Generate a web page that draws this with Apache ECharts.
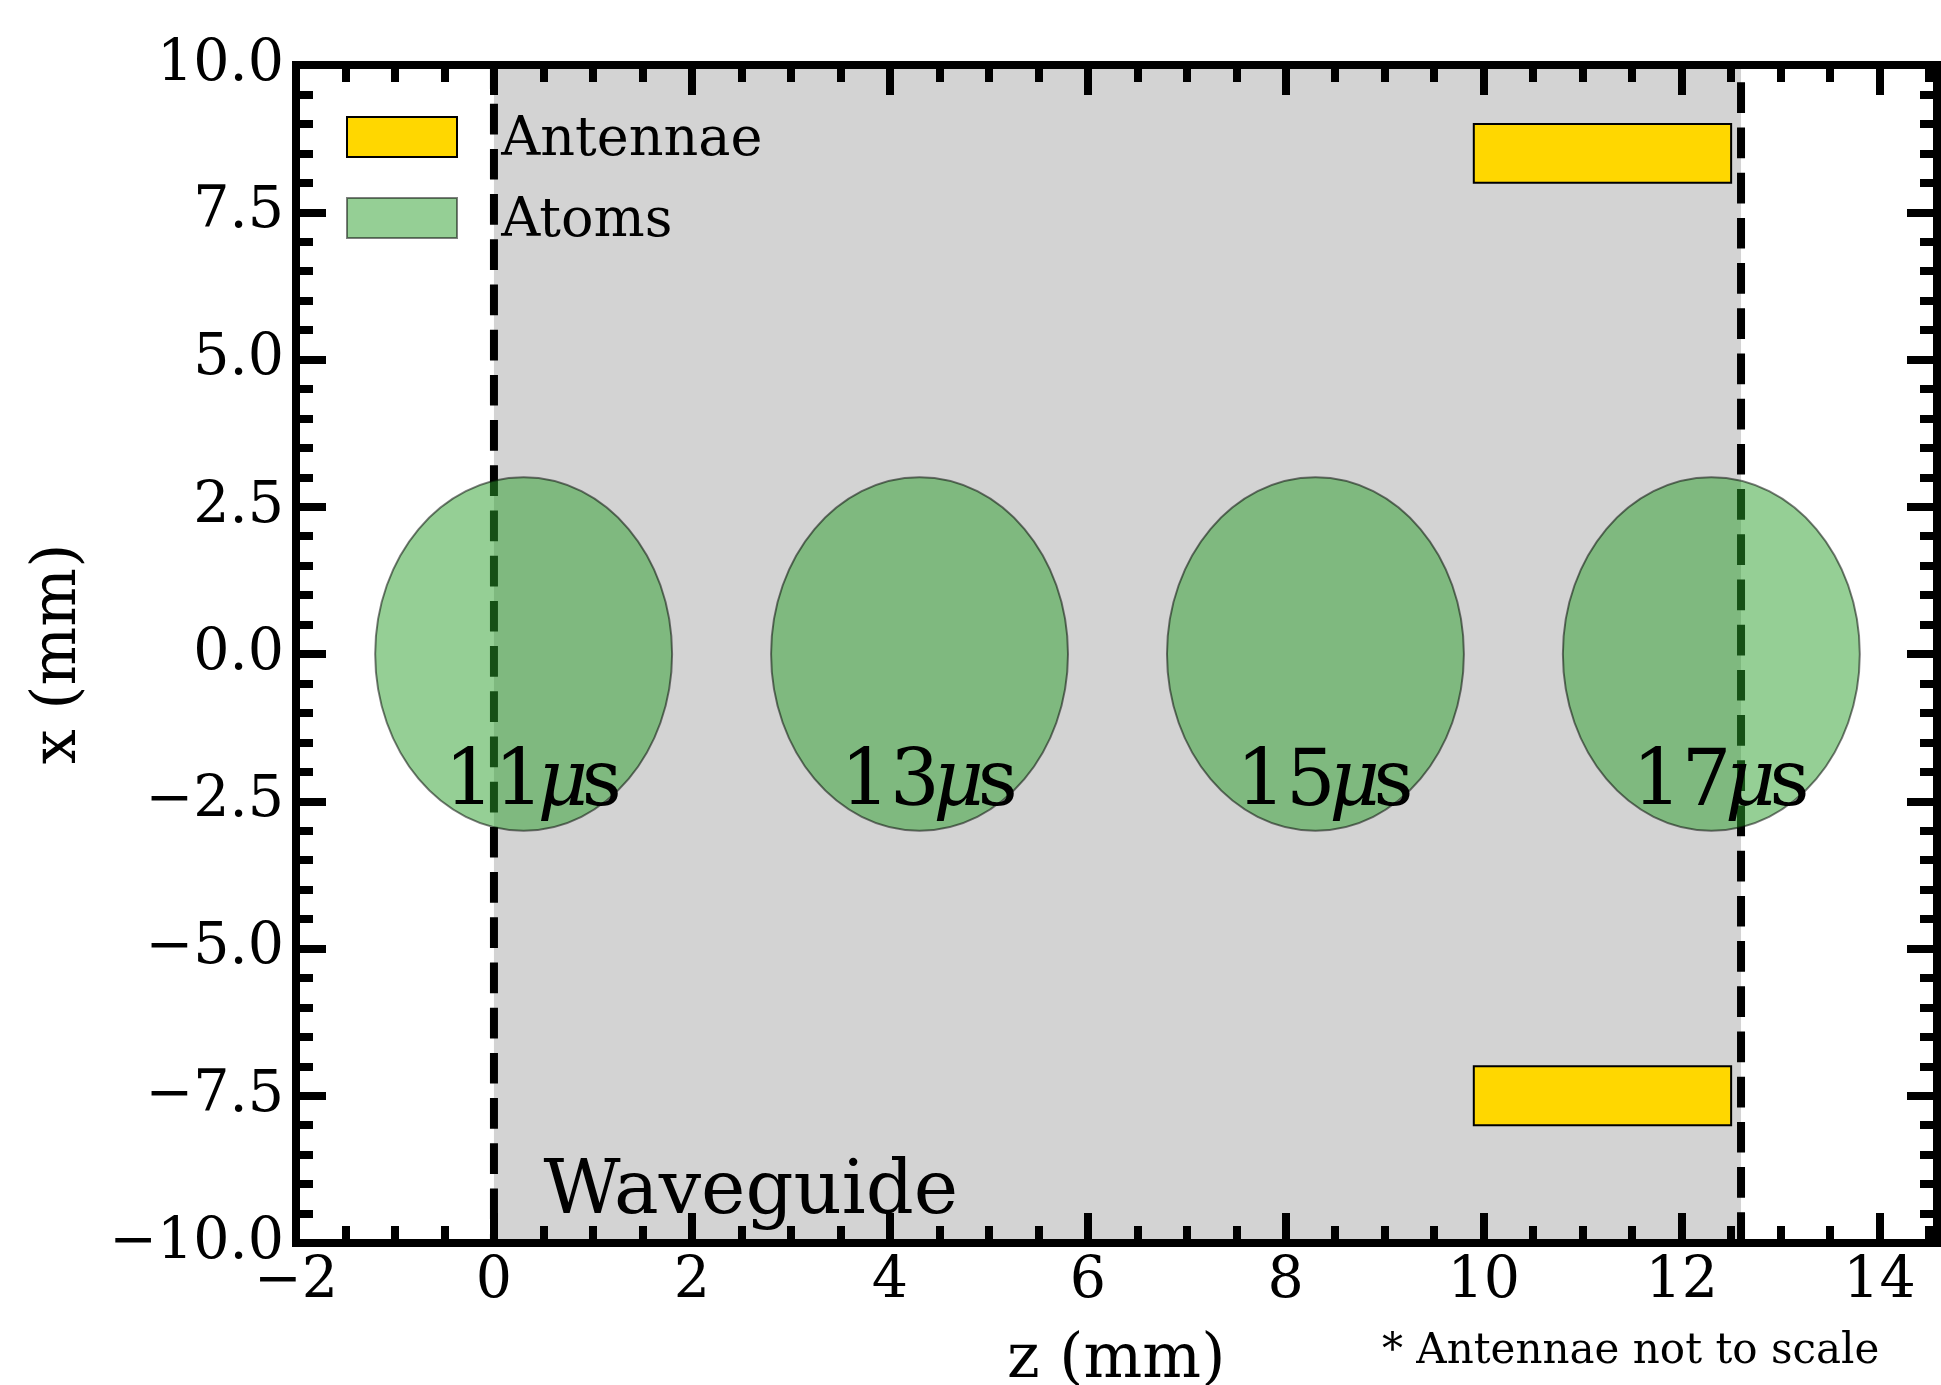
<!DOCTYPE html>
<html>
<head>
<meta charset="utf-8">
<script src="https://cdn.jsdelivr.net/npm/echarts@6/dist/echarts.min.js"></script>
<style>
html,body{margin:0;padding:0;background:#fff;}
#c{width:1941px;height:1385px;}
</style>
</head>
<body>
<div id="c"></div>
<script>
// ---------- data ----------
const xTicks = [-2, 0, 2, 4, 6, 8, 10, 12, 14];          // z (mm) major ticks
const yTicks = [-10, -7.5, -5, -2.5, 0, 2.5, 5, 7.5, 10]; // x (mm) major ticks
const xLimits = [-2, 14.58];
const yLimits = [-10, 10];
const waveguideZ = [0, 12.6];                 // waveguide start / end (dashed lines)
const atomZ = [0.3, 4.3, 8.3, 12.3];          // cloud centres along z
const atomX = [0, 0, 0, 0];                   // cloud centres along x
const atomWidth = [3, 3, 3, 3];               // full width in z (mm)
const atomHeight = [6, 6, 6, 6];              // full height in x (mm)
const atomTimes = ['11', '13', '15', '17'];   // time labels (µs)
const atomLabelX = [-2.5, -2.5, -2.5, -2.5];  // label baseline (x, mm)
const antennaZStart = [9.9, 9.9];
const antennaZEnd = [12.5, 12.5];
const antennaXLow = [8, -8];
const antennaXHigh = [9, -7];
const waveguideLabel = ['Waveguide', 0.5, -9.5];
const legendNames = ['Antennae', 'Atoms'];
const axisTitles = ['z (mm)', 'x (mm)'];

// minor ticks every 0.5 mm along z (not on majors)
const xMinorTicks = [];
for (let k = Math.round(xLimits[0] * 2) + 1; k <= Math.floor(xLimits[1] * 2); k++) {
  if (k % 4 !== 0) xMinorTicks.push(k / 2);
}

// ---------- style ----------
const FONT = 'DejaVu Serif';
const TICK_FS = 57;
const BIG_FS = 78;
const WG_FS = 75;
const GREEN = 'rgba(44,160,44,0.5)';
const GREEN_EDGE = 'rgba(0,0,0,0.5)';
const GOLD = '#FFD700';
const MID = 0.27; // em-middle above alphabetic baseline (empirical)

const minusFmt = v => (v < 0 ? '\u2212' : '') + Math.abs(v);
const minusFmt1 = v => (v < 0 ? '\u2212' : '') + Math.abs(v).toFixed(1);

const axisLine = {show: true, onZero: false, lineStyle: {color: '#000', width: 8, cap: 'square'}};
const majorTick = {show: true, inside: true, length: 30, lineStyle: {color: '#000', width: 8}};
const minorTickStyle = {show: true, inside: true, length: 17, lineStyle: {color: '#000', width: 8}};
const GRID = {left: 296, top: 65, width: 1641, height: 1178, outerBoundsMode: 'none', containLabel: false};

const chart = echarts.init(document.getElementById('c'), null, {renderer: 'canvas'});

const option = {
  animation: false,
  backgroundColor: '#fff',
  grid: [
    Object.assign({show: true, borderColor: '#000', borderWidth: 8, backgroundColor: 'transparent'}, GRID),
    Object.assign({show: false}, GRID)
  ],
  legend: {
    orient: 'vertical', left: 346, top: 114, padding: 0,
    itemWidth: 110, itemHeight: 40, itemGap: 27, icon: 'rect',
    selectedMode: false,
    formatter: '{s| }{a|{name}}',
    textStyle: {
      fontFamily: FONT, fontSize: 54, color: '#000', padding: [0, 0, 0, 39],
      rich: {
        s: {fontSize: 1, lineHeight: 62},
        a: {fontFamily: FONT, fontSize: 54, color: '#000', lineHeight: 54, verticalAlign: 'bottom'}
      }
    },
    data: [
      {name: legendNames[0], itemStyle: {color: GOLD, borderColor: '#000', borderWidth: 2}},
      {name: legendNames[1], itemStyle: {color: GREEN, borderColor: GREEN_EDGE, borderWidth: 2}}
    ]
  },
  xAxis: [
    {
      gridIndex: 0, type: 'value', position: 'bottom', min: xLimits[0], max: xLimits[1], interval: 2, z: 10,
      axisLine: axisLine,
      axisTick: Object.assign({customValues: xTicks}, majorTick),
      axisLabel: {customValues: xTicks, formatter: minusFmt, fontFamily: FONT, fontSize: TICK_FS, color: '#000', margin: 11},
      splitLine: {show: false}
    },
    {
      gridIndex: 0, type: 'value', position: 'top', min: xLimits[0], max: xLimits[1], interval: 2, z: 10,
      axisLine: axisLine,
      axisTick: Object.assign({customValues: xTicks}, majorTick),
      axisLabel: {show: false}, splitLine: {show: false}
    },
    {
      gridIndex: 1, type: 'value', position: 'bottom', min: xLimits[0], max: xLimits[1], interval: 2, z: 10,
      axisLine: {show: false, onZero: false},
      axisTick: Object.assign({customValues: xMinorTicks}, minorTickStyle),
      axisLabel: {show: false}, splitLine: {show: false}
    },
    {
      gridIndex: 1, type: 'value', position: 'top', min: xLimits[0], max: xLimits[1], interval: 2, z: 10,
      axisLine: {show: false, onZero: false},
      axisTick: Object.assign({customValues: xMinorTicks}, minorTickStyle),
      axisLabel: {show: false}, splitLine: {show: false}
    }
  ],
  yAxis: [
    {
      gridIndex: 0, type: 'value', position: 'left', min: yLimits[0], max: yLimits[1], interval: 2.5, z: 10,
      axisLine: axisLine,
      axisTick: Object.assign({customValues: yTicks}, majorTick),
      minorTick: {show: true, splitNumber: 5, length: 17, lineStyle: {color: '#000', width: 8}},
      axisLabel: {customValues: yTicks, formatter: minusFmt1, fontFamily: FONT, fontSize: TICK_FS, color: '#000',
                  margin: 12, padding: [14, 0, 0, 0]},
      splitLine: {show: false},
      name: axisTitles[1], nameLocation: 'middle', nameRotate: 90, nameGap: 206,
      nameTextStyle: {fontFamily: FONT, fontSize: 62, color: '#000'}
    },
    {
      gridIndex: 0, type: 'value', position: 'right', min: yLimits[0], max: yLimits[1], interval: 2.5, z: 10,
      axisLine: axisLine,
      axisTick: Object.assign({customValues: yTicks}, majorTick),
      minorTick: {show: true, splitNumber: 5, length: 17, lineStyle: {color: '#000', width: 8}},
      axisLabel: {show: false}, splitLine: {show: false}
    },
    {
      gridIndex: 1, type: 'value', min: yLimits[0], max: yLimits[1], show: false,
      axisLine: {show: false, onZero: false}
    }
  ],
  series: [
    {
      name: 'waveguide', type: 'custom', xAxisIndex: 0, yAxisIndex: 0, silent: true, z: 1,
      data: [[waveguideZ[0], waveguideZ[1]]],
      renderItem: function (params, api) {
        const p0 = api.coord([api.value(0), yLimits[1]]);
        const p1 = api.coord([api.value(1), yLimits[0]]);
        return {type: 'rect', shape: {x: p0[0], y: p0[1], width: p1[0] - p0[0], height: p1[1] - p0[1]},
                style: {fill: '#d3d3d3'}};
      }
    },
    {
      name: 'wgStart', type: 'line', xAxisIndex: 0, yAxisIndex: 0, silent: true, z: 2,
      showSymbol: false, symbol: 'none',
      data: [[waveguideZ[0], yLimits[1]], [waveguideZ[0], yLimits[0]]],
      lineStyle: {color: '#000', width: 8, type: [30.7, 14.5], dashOffset: 6.5, cap: 'butt'}
    },
    {
      name: 'wgEnd', type: 'line', xAxisIndex: 0, yAxisIndex: 0, silent: true, z: 2,
      showSymbol: false, symbol: 'none',
      data: [[waveguideZ[1], yLimits[0]], [waveguideZ[1], yLimits[1]]],
      lineStyle: {color: '#000', width: 8, type: [30.7, 14.5], dashOffset: 0, cap: 'butt'}
    },
    {
      name: legendNames[0], type: 'custom', xAxisIndex: 0, yAxisIndex: 0, silent: true, z: 3,
      itemStyle: {color: GOLD},
      data: antennaZStart.map((z, i) => [z, antennaZEnd[i], antennaXLow[i], antennaXHigh[i]]),
      renderItem: function (params, api) {
        const p0 = api.coord([api.value(0), api.value(3)]);
        const p1 = api.coord([api.value(1), api.value(2)]);
        return {type: 'rect', shape: {x: p0[0], y: p0[1], width: p1[0] - p0[0], height: p1[1] - p0[1]},
                style: {fill: GOLD, stroke: '#000', lineWidth: 2}};
      }
    },
    {
      name: legendNames[1], type: 'custom', xAxisIndex: 0, yAxisIndex: 0, silent: true, z: 4,
      itemStyle: {color: GREEN},
      data: atomZ.map((z, i) => [z, atomX[i], atomWidth[i], atomHeight[i]]),
      renderItem: function (params, api) {
        const c = api.coord([api.value(0), api.value(1)]);
        const s = api.size([api.value(2), api.value(3)]);
        return {type: 'ellipse', shape: {cx: c[0], cy: c[1], rx: s[0] / 2, ry: s[1] / 2},
                style: {fill: GREEN, stroke: GREEN_EDGE, lineWidth: 2}};
      }
    },
    {
      name: 'timeLabels', type: 'custom', xAxisIndex: 0, yAxisIndex: 0, silent: true, z: 5,
      data: atomZ.map((z, i) => [z, atomLabelX[i]]),
      renderItem: function (params, api) {
        const p = api.coord([api.value(0), api.value(1)]);
        const t = atomTimes[params.dataIndex];
        return {type: 'text', x: p[0] + 9.5, y: p[1] - MID * BIG_FS + 5,
                style: {text: '{n|' + t + '}{m|\u03bc}{n|s}',
                        rich: {
                          n: {fontFamily: FONT, fontSize: BIG_FS, fill: '#000', color: '#000'},
                          m: {fontFamily: FONT, fontSize: BIG_FS, fontStyle: 'italic', fill: '#000', color: '#000',
                              width: 38, align: 'left'}
                        },
                        align: 'center', verticalAlign: 'middle', textAlign: 'center', textVerticalAlign: 'middle'}};
      }
    },
    {
      name: 'wgLabel', type: 'custom', xAxisIndex: 0, yAxisIndex: 0, silent: true, z: 5,
      data: [[waveguideLabel[1], waveguideLabel[2]]],
      renderItem: function (params, api) {
        const p = api.coord([api.value(0), api.value(1)]);
        return {type: 'text', x: p[0], y: p[1] - MID * WG_FS,
                style: {text: waveguideLabel[0], font: WG_FS + 'px "' + FONT + '"', fill: '#000',
                        align: 'left', verticalAlign: 'middle', textAlign: 'left', textVerticalAlign: 'middle'}};
      }
    }
  ],
  graphic: [
    {type: 'text', left: 1007, top: 1330, z: 20,
     style: {text: axisTitles[0], font: '62px "DejaVu Serif"', fill: '#000'}},
    {type: 'text', left: 1382, top: 1331, z: 20,
     style: {text: '* Antennae not to scale', font: '42px "DejaVu Serif"', fill: '#000'}}
  ]
};

chart.setOption(option);
</script>
</body>
</html>
